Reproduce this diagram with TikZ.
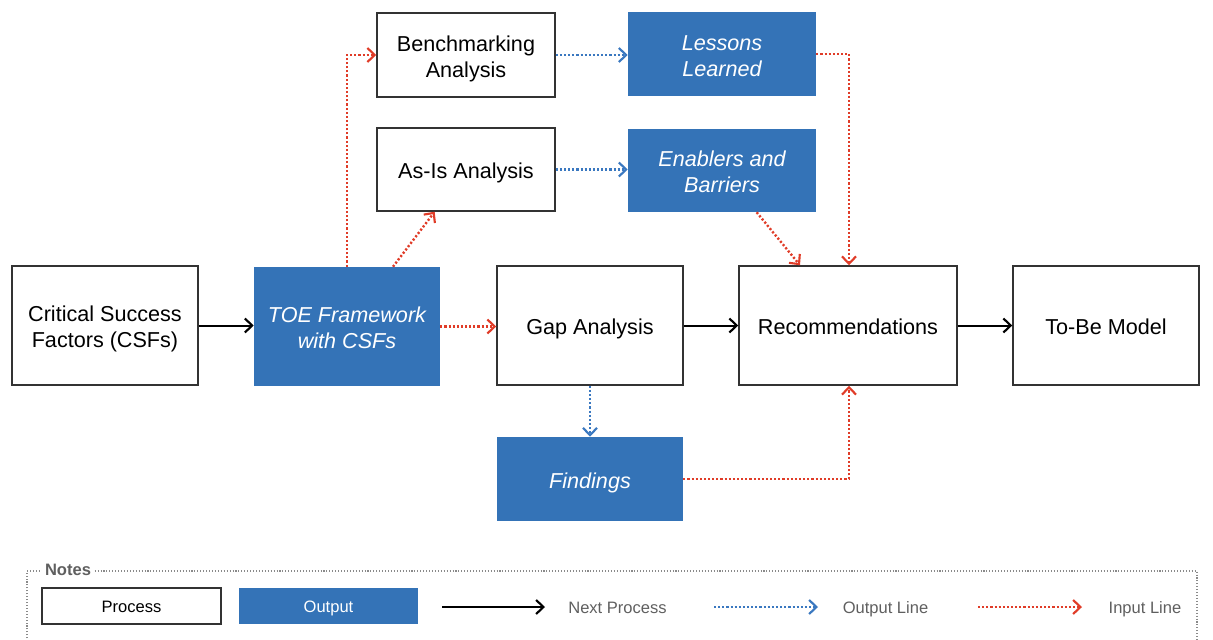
\documentclass[tikz,border=0pt]{standalone}
\usepackage{fontspec}
\setmainfont{Liberation Sans}
\usetikzlibrary{arrows.meta}
\definecolor{outblue}{HTML}{3473B7}
\definecolor{inred}{HTML}{E03C28}
\definecolor{linkblue}{HTML}{3A78C0}
\definecolor{notegray}{HTML}{5F5F5F}
\definecolor{framegray}{HTML}{8A8A8A}
\definecolor{boxline}{HTML}{333333}

% struts that fix the vertical placement of two-line box texts
\newcommand\txttop{\rule{0pt}{17pt}}
\newcommand\txtbot{\rule[-3.4pt]{0pt}{3.4pt}}

\begin{document}
\begin{tikzpicture}[x=0.75pt,y=-0.75pt,
  sz/.style 2 args={minimum width=#1*0.75pt, minimum height=#2*0.75pt},
  mainfont/.style={font=\fontsize{16.2}{19.5}\selectfont},
  notefont/.style={font=\fontsize{12.4}{14}\selectfont},
  oneline/.style={text height=17pt, text depth=3.4pt},
  smallline/.style={text height=12.4pt, text depth=2.6pt},
  procbox/.style={draw=boxline, line width=1.1pt, fill=white, align=center, inner sep=0pt, mainfont},
  outbox/.style={fill=outblue, text=white, align=center, inner sep=0pt, font=\fontsize{16.2}{19.5}\selectfont\itshape},
  tip/.style={-{Straight Barb[length=5.5pt,width=10.5pt,line width=1.6pt]}},
  nextarrow/.style={draw=black, line width=1.5pt, tip},
  outarrow/.style={draw=linkblue, line width=1.8pt, dash pattern=on 1.6pt off 1.5pt, tip},
  inarrow/.style={draw=inred, line width=1.8pt, dash pattern=on 1.6pt off 1.5pt, tip},
  notetext/.style={text=notegray, notefont, smallline, anchor=center}
]
\useasboundingbox (0,0) rectangle (1213,639);

% main flow
\node[procbox, sz={186}{119}] (csf)  at (105,325.5)  {\txttop Critical Success\\Factors (CSFs)\txtbot};
\node[outbox,  sz={186}{119}] (toe)  at (347,326.5)  {\txttop TOE Framework\\with CSFs\txtbot};
\node[procbox, oneline, sz={186}{119}] (gap)  at (590,325.5)  {Gap Analysis};
\node[procbox, oneline, sz={218}{119}] (rec)  at (848,325.5)  {Recommendations};
\node[procbox, oneline, sz={186}{119}] (tobe) at (1106,325.5) {To-Be Model};

% upper analyses and their outputs
\node[procbox, sz={178}{84}] (bench) at (466,55)    {\txttop Benchmarking\\Analysis\txtbot};
\node[outbox,  sz={188}{84}] (less)  at (722,54)    {\txttop Lessons\\Learned\txtbot};
\node[procbox, oneline, sz={178}{83}] (asis)  at (466,169.5) {As-Is Analysis};
\node[outbox,  sz={188}{83}] (enab)  at (722,170.5) {\txttop Enablers and\\Barriers\txtbot};

% output of the gap analysis
\node[outbox, oneline, sz={186}{84}] (find) at (590,479) {Findings};

% connectors
\draw[nextarrow] (csf.east) -- (csf.east -| toe.west);
\draw[inarrow]   (toe.east) -- (toe.east -| gap.west);
\draw[nextarrow] (gap.east) -- (gap.east -| rec.west);
\draw[nextarrow] (rec.east) -- (rec.east -| tobe.west);

\draw[inarrow] (toe.north) |- (bench.west);
\draw[inarrow] ([xshift=34.5pt]toe.north) -- ([xshift=-23.5pt]asis.south);
\draw[outarrow] (bench.east) -- (bench.east -| less.west);
\draw[outarrow] (asis.east) -- (asis.east -| enab.west);

\draw[inarrow] (less.east) -| ([xshift=0.75pt]rec.north);
\draw[inarrow] ([xshift=26pt]enab.south) -- ([xshift=-36pt]rec.north);
\draw[outarrow] (gap.south) -- (find.north);
\draw[inarrow] (find.east) -| ([xshift=0.75pt]rec.south);

% legend frame
\draw[framegray, line width=0.8pt, dash pattern=on 0.8pt off 1.4pt]
  (27,650) -- (27,571) -- (1197,571) -- (1197,650);
\node[fill=white, text=notegray, inner sep=2pt, font=\fontsize{12.4}{14}\selectfont\bfseries] (notes) at (68,570) {Notes};

% legend entries
\node[procbox, line width=0.9pt, notefont, smallline, sz={179}{36}] (lproc) at (131.5,606) {Process};
\node[outbox, notefont, smallline, sz={179}{36}] (lout) at (328.5,606) {Output};

\coordinate (na) at (442,607);
\coordinate (nb) at (545,607);
\draw[nextarrow] (na) -- (nb);
\node[notetext] (lnext) at (617.5,607) {Next Process};

\coordinate (oa) at (714,607);
\coordinate (ob) at (818,607);
\draw[outarrow] (oa) -- (ob);
\node[notetext] (loutl) at (885.5,607) {Output Line};

\coordinate (ia) at (978,607);
\coordinate (ib) at (1082,607);
\draw[inarrow] (ia) -- (ib);
\node[notetext] (linl) at (1145,607) {Input Line};
\end{tikzpicture}
\end{document}
